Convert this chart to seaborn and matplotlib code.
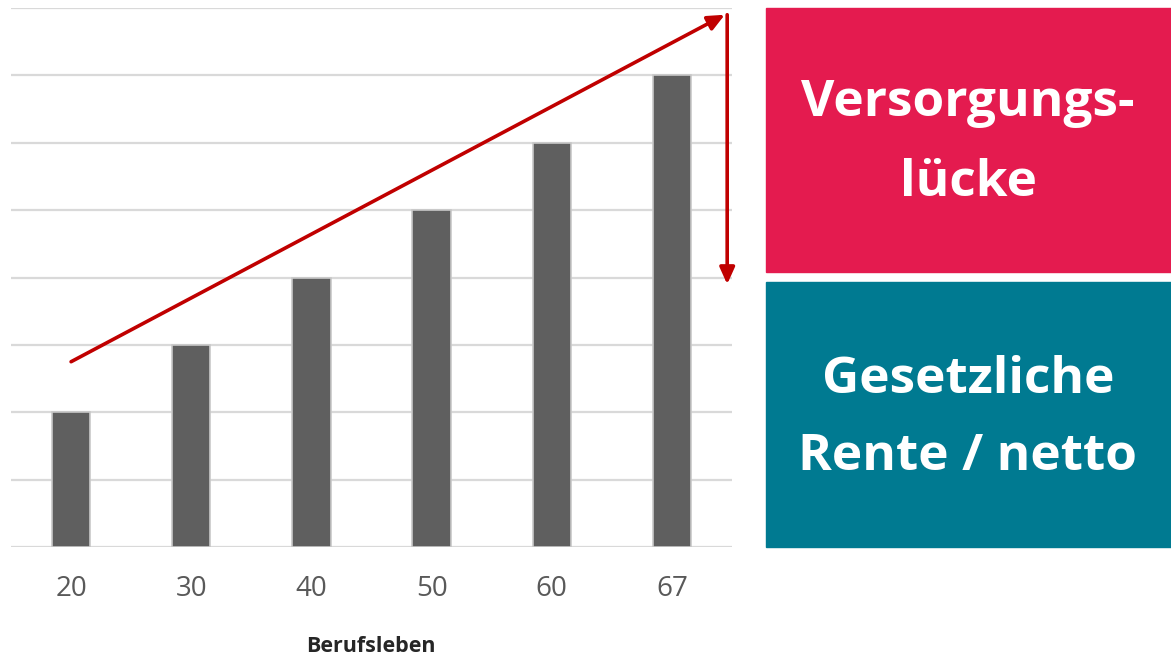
import pandas as pd
import seaborn as sns
import matplotlib.pyplot as plt
from matplotlib.patches import Rectangle

# Data
ages = ['20', '30', '40', '50', '60', '67']
income = [2, 3, 4, 5, 6, 7]

# Trend arrow (Einkommen) and gap arrow, in data units
trend_x = [0.0, 5.44]
trend_y = [2.75, 7.9]
gap_x = 5.46
gap_y = [7.9, 3.9]

df = pd.DataFrame({'Alter': ages, 'Wert': income})

sns.set_style('white')
plt.rcParams['font.family'] = ['Open Sans', 'DejaVu Sans']

W, H = 1171, 659
fig = plt.figure(figsize=(W / 100, H / 100), dpi=100)
ax = fig.add_axes([11 / W, (H - 547) / H, 721 / W, 539 / H])

sns.barplot(data=df, x='Alter', y='Wert', order=ages, color='#5f5f5f',
            width=0.32, edgecolor='#c8c8c8', linewidth=1.2, saturation=1, ax=ax)

ax.set_xlim(-0.5, 5.5)
ax.set_ylim(0, 8)
ax.set_yticks(range(0, 9))
ax.yaxis.grid(True, color='#d9d9d9', linewidth=1.6)
ax.set_axisbelow(True)
ax.set_yticklabels([])
ax.tick_params(axis='y', length=0)
ax.tick_params(axis='x', length=0, labelsize=20, labelcolor='#595959', pad=20)
for s in ax.spines.values():
    s.set_visible(False)
ax.set_ylabel('')
ax.set_xlabel('')
fig.text(371 / W, (H - 647) / H, 'Berufsleben', ha='center', va='center',
         fontsize=15.5, fontweight='bold', color='#262626')

red = '#c00000'
ax.annotate('', xy=(trend_x[1], trend_y[1]), xytext=(trend_x[0], trend_y[0]),
            arrowprops=dict(arrowstyle='-|>,head_length=1.0,head_width=0.45',
                            color=red, lw=2.6, shrinkA=0, shrinkB=0),
            annotation_clip=False)
ax.annotate('', xy=(gap_x, gap_y[1]), xytext=(gap_x, gap_y[0]),
            arrowprops=dict(arrowstyle='-|>,head_length=1.0,head_width=0.45',
                            color=red, lw=2.6, shrinkA=0, shrinkB=0),
            annotation_clip=False)

# Right-hand boxes
fig.patches.append(Rectangle((766 / W, (H - 272) / H), 405 / W, 264 / H,
                             transform=fig.transFigure, color='#e41b4f', zorder=0))
fig.patches.append(Rectangle((766 / W, (H - 547) / H), 405 / W, 265 / H,
                             transform=fig.transFigure, color='#007a91', zorder=0))

box_cx = 968 / W
for txt, y in [('Versorgungs-', 103), ('lücke', 183),
               ('Gesetzliche', 380), ('Rente / netto', 457)]:
    fig.text(box_cx, (H - y) / H, txt, ha='center', va='center',
             fontsize=37, fontweight='bold', color='white')

fig.savefig('out.png', dpi=100)
